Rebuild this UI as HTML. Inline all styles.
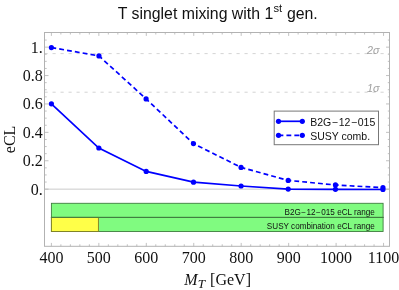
<!DOCTYPE html>
<html><head><meta charset="utf-8"><title>T singlet mixing</title>
<style>html,body{margin:0;padding:0;background:#fff;}body{width:399px;height:290px;position:relative;overflow:hidden;font-family:"Liberation Sans",sans-serif;}</style>
</head><body>
<svg width="399" height="290" viewBox="0 0 399 290" style="position:absolute;left:0;top:0">
<line x1="44.5" y1="53.61" x2="389.5" y2="53.61" stroke="#d4d4d4" stroke-width="1" stroke-dasharray="3.2 4.8"/>
<line x1="44.5" y1="92.21" x2="389.5" y2="92.21" stroke="#d4d4d4" stroke-width="1" stroke-dasharray="3.2 4.8"/>
<line x1="44.5" y1="189.15" x2="389.5" y2="189.15" stroke="#c4c4c4" stroke-width="0.9"/>
<rect x="51.4" y="203.3" width="331.70000000000005" height="14.1" fill="#80fb80" stroke="#3f7d3f" stroke-width="0.9"/>
<rect x="51.4" y="217.4" width="331.70000000000005" height="14.1" fill="#80fb80" stroke="#3f7d3f" stroke-width="0.9"/>
<rect x="51.4" y="217.4" width="47.00000000000001" height="14.1" fill="#ffff48" stroke="#7d7d24" stroke-width="0.9"/>
<line x1="50.949999999999996" y1="217.4" x2="383.55" y2="217.4" stroke="#3f7d3f" stroke-width="0.9"/>
<rect x="44.5" y="32.5" width="345.0" height="213.8" fill="none" stroke="#b2b2b2" stroke-width="1"/>
<path d="M51.40 246.3 v-3.4 M51.40 32.5 v3.4 M60.89 246.3 v-2.0 M60.89 32.5 v2.0 M70.38 246.3 v-2.0 M70.38 32.5 v2.0 M79.87 246.3 v-2.0 M79.87 32.5 v2.0 M89.36 246.3 v-2.0 M89.36 32.5 v2.0 M98.85 246.3 v-3.4 M98.85 32.5 v3.4 M108.34 246.3 v-2.0 M108.34 32.5 v2.0 M117.83 246.3 v-2.0 M117.83 32.5 v2.0 M127.32 246.3 v-2.0 M127.32 32.5 v2.0 M136.81 246.3 v-2.0 M136.81 32.5 v2.0 M146.30 246.3 v-3.4 M146.30 32.5 v3.4 M155.79 246.3 v-2.0 M155.79 32.5 v2.0 M165.28 246.3 v-2.0 M165.28 32.5 v2.0 M174.77 246.3 v-2.0 M174.77 32.5 v2.0 M184.26 246.3 v-2.0 M184.26 32.5 v2.0 M193.75 246.3 v-3.4 M193.75 32.5 v3.4 M203.24 246.3 v-2.0 M203.24 32.5 v2.0 M212.73 246.3 v-2.0 M212.73 32.5 v2.0 M222.22 246.3 v-2.0 M222.22 32.5 v2.0 M231.71 246.3 v-2.0 M231.71 32.5 v2.0 M241.20 246.3 v-3.4 M241.20 32.5 v3.4 M250.69 246.3 v-2.0 M250.69 32.5 v2.0 M260.18 246.3 v-2.0 M260.18 32.5 v2.0 M269.67 246.3 v-2.0 M269.67 32.5 v2.0 M279.16 246.3 v-2.0 M279.16 32.5 v2.0 M288.65 246.3 v-3.4 M288.65 32.5 v3.4 M298.14 246.3 v-2.0 M298.14 32.5 v2.0 M307.63 246.3 v-2.0 M307.63 32.5 v2.0 M317.12 246.3 v-2.0 M317.12 32.5 v2.0 M326.61 246.3 v-2.0 M326.61 32.5 v2.0 M336.10 246.3 v-3.4 M336.10 32.5 v3.4 M345.59 246.3 v-2.0 M345.59 32.5 v2.0 M355.08 246.3 v-2.0 M355.08 32.5 v2.0 M364.57 246.3 v-2.0 M364.57 32.5 v2.0 M374.06 246.3 v-2.0 M374.06 32.5 v2.0 M383.55 246.3 v-3.4 M383.55 32.5 v3.4 M44.5 189.15 h4.0 M389.5 189.15 h-3.5 M44.5 182.05 h2.2 M389.5 182.05 h-1.7 M44.5 174.95 h2.2 M389.5 174.95 h-1.7 M44.5 167.85 h2.2 M389.5 167.85 h-1.7 M44.5 160.75 h4.0 M389.5 160.75 h-3.5 M44.5 153.65 h2.2 M389.5 153.65 h-1.7 M44.5 146.55 h2.2 M389.5 146.55 h-1.7 M44.5 139.45 h2.2 M389.5 139.45 h-1.7 M44.5 132.35 h4.0 M389.5 132.35 h-3.5 M44.5 125.25 h2.2 M389.5 125.25 h-1.7 M44.5 118.15 h2.2 M389.5 118.15 h-1.7 M44.5 111.05 h2.2 M389.5 111.05 h-1.7 M44.5 103.95 h4.0 M389.5 103.95 h-3.5 M44.5 96.85 h2.2 M389.5 96.85 h-1.7 M44.5 89.75 h2.2 M389.5 89.75 h-1.7 M44.5 82.65 h2.2 M389.5 82.65 h-1.7 M44.5 75.55 h4.0 M389.5 75.55 h-3.5 M44.5 68.45 h2.2 M389.5 68.45 h-1.7 M44.5 61.35 h2.2 M389.5 61.35 h-1.7 M44.5 54.25 h2.2 M389.5 54.25 h-1.7 M44.5 47.15 h4.0 M389.5 47.15 h-3.5 M44.5 40.05 h2.2 M389.5 40.05 h-1.7" stroke="#b2b2b2" stroke-width="0.8" fill="none"/>
<polyline points="51.4,47.55 98.95,55.9 146.1,98.9 193.45,143.6 241.05,167.4 288.2,180.4 335.45,184.95 382.95,187.7" fill="none" stroke="#0000ff" stroke-width="1.7" stroke-dasharray="4.85 3.08"/>
<polyline points="51.4,103.8 98.85,148.0 146.2,171.4 193.5,182.2 241.05,186.0 288.2,189.05 335.45,189.3 382.95,189.5" fill="none" stroke="#0000ff" stroke-width="1.7"/>
<circle cx="51.4" cy="47.55" r="2.6" fill="#0000ff"/>
<circle cx="98.95" cy="55.9" r="2.6" fill="#0000ff"/>
<circle cx="146.1" cy="98.9" r="2.6" fill="#0000ff"/>
<circle cx="193.45" cy="143.6" r="2.6" fill="#0000ff"/>
<circle cx="241.05" cy="167.4" r="2.6" fill="#0000ff"/>
<circle cx="288.2" cy="180.4" r="2.6" fill="#0000ff"/>
<circle cx="335.45" cy="184.95" r="2.6" fill="#0000ff"/>
<circle cx="382.95" cy="187.7" r="2.6" fill="#0000ff"/>
<circle cx="51.4" cy="103.8" r="2.6" fill="#0000ff"/>
<circle cx="98.85" cy="148.0" r="2.6" fill="#0000ff"/>
<circle cx="146.2" cy="171.4" r="2.6" fill="#0000ff"/>
<circle cx="193.5" cy="182.2" r="2.6" fill="#0000ff"/>
<circle cx="241.05" cy="186.0" r="2.6" fill="#0000ff"/>
<circle cx="288.2" cy="189.05" r="2.6" fill="#0000ff"/>
<circle cx="335.45" cy="189.3" r="2.6" fill="#0000ff"/>
<circle cx="382.95" cy="189.5" r="2.6" fill="#0000ff"/>
<rect x="274.2" y="111.1" width="104.3" height="33.6" fill="#fff" stroke="#777" stroke-width="1"/>
<line x1="278.5" y1="121.3" x2="302.3" y2="121.3" stroke="#0000ff" stroke-width="1.7"/>
<line x1="278.5" y1="135.3" x2="302.3" y2="135.3" stroke="#0000ff" stroke-width="1.7" stroke-dasharray="4.85 3.08"/>
<circle cx="278.5" cy="121.3" r="2.6" fill="#0000ff"/>
<circle cx="302.3" cy="121.3" r="2.6" fill="#0000ff"/>
<circle cx="278.5" cy="135.3" r="2.6" fill="#0000ff"/>
<circle cx="302.3" cy="135.3" r="2.6" fill="#0000ff"/>
<g style="filter:grayscale(1)">
<text x="310.2" y="125.7" font-family="Liberation Sans, sans-serif" font-size="10.5" fill="#111">B2G<tspan dx="0.65">−</tspan><tspan dx="0.65">12</tspan><tspan dx="0.65">−</tspan><tspan dx="0.65">015</tspan></text>
<text x="310.2" y="139.8" font-family="Liberation Sans, sans-serif" font-size="10.5" fill="#111">SUSY comb.</text>
<text x="374.8" y="214.5" font-family="Liberation Sans, sans-serif" font-size="8.15" fill="#111" text-anchor="end">B2G<tspan dx="0.5">−</tspan><tspan dx="0.5">12</tspan><tspan dx="0.5">−</tspan><tspan dx="0.5">015 eCL range</tspan></text>
<text x="374.8" y="228.6" font-family="Liberation Sans, sans-serif" font-size="8.15" fill="#111" text-anchor="end">SUSY combination eCL range</text>
<text x="379.5" y="53.51" font-family="Liberation Sans, sans-serif" font-size="10.8" font-style="italic" fill="#a0a0a0" text-anchor="end">2σ</text>
<text x="379.5" y="92.11" font-family="Liberation Sans, sans-serif" font-size="10.8" font-style="italic" fill="#a0a0a0" text-anchor="end">1σ</text>
<text x="117.7" y="19.3" font-family="Liberation Sans, sans-serif" font-size="15.85" fill="#111">T singlet mixing with 1</text><text x="273.4" y="11.9" font-family="Liberation Sans, sans-serif" font-size="11.2" fill="#111">st</text><text x="286.9" y="19.3" font-family="Liberation Sans, sans-serif" font-size="15.85" fill="#111">gen.</text>
<text x="42.7" y="52.65" font-family="Liberation Serif, serif" font-size="16" fill="#111" text-anchor="end">1.</text>
<text x="42.7" y="81.05" font-family="Liberation Serif, serif" font-size="16" fill="#111" text-anchor="end">0.8</text>
<text x="42.7" y="109.45" font-family="Liberation Serif, serif" font-size="16" fill="#111" text-anchor="end">0.6</text>
<text x="42.7" y="137.85" font-family="Liberation Serif, serif" font-size="16" fill="#111" text-anchor="end">0.4</text>
<text x="42.7" y="166.25" font-family="Liberation Serif, serif" font-size="16" fill="#111" text-anchor="end">0.2</text>
<text x="42.7" y="194.65" font-family="Liberation Serif, serif" font-size="16" fill="#111" text-anchor="end">0.</text>
<text x="51.40" y="263.3" font-family="Liberation Serif, serif" font-size="16" fill="#111" text-anchor="middle">400</text>
<text x="98.85" y="263.3" font-family="Liberation Serif, serif" font-size="16" fill="#111" text-anchor="middle">500</text>
<text x="146.30" y="263.3" font-family="Liberation Serif, serif" font-size="16" fill="#111" text-anchor="middle">600</text>
<text x="193.75" y="263.3" font-family="Liberation Serif, serif" font-size="16" fill="#111" text-anchor="middle">700</text>
<text x="241.20" y="263.3" font-family="Liberation Serif, serif" font-size="16" fill="#111" text-anchor="middle">800</text>
<text x="288.65" y="263.3" font-family="Liberation Serif, serif" font-size="16" fill="#111" text-anchor="middle">900</text>
<text x="336.10" y="263.3" font-family="Liberation Serif, serif" font-size="16" fill="#111" text-anchor="middle">1000</text>
<text x="383.55" y="263.3" font-family="Liberation Serif, serif" font-size="16" fill="#111" text-anchor="middle">1100</text>
<text x="184.3" y="285.1" font-family="Liberation Serif, serif" font-size="16" fill="#111" font-style="italic">M</text><text x="197.8" y="288.4" font-family="Liberation Serif, serif" font-size="13.2" fill="#111" font-style="italic">T</text><text x="210.1" y="285.1" font-family="Liberation Serif, serif" font-size="16" fill="#111">[GeV]</text>
<text transform="translate(15.2,153.2) rotate(-90)" font-family="Liberation Serif, serif" font-size="16" fill="#111">eCL</text>
</g>
</svg>
</body></html>
